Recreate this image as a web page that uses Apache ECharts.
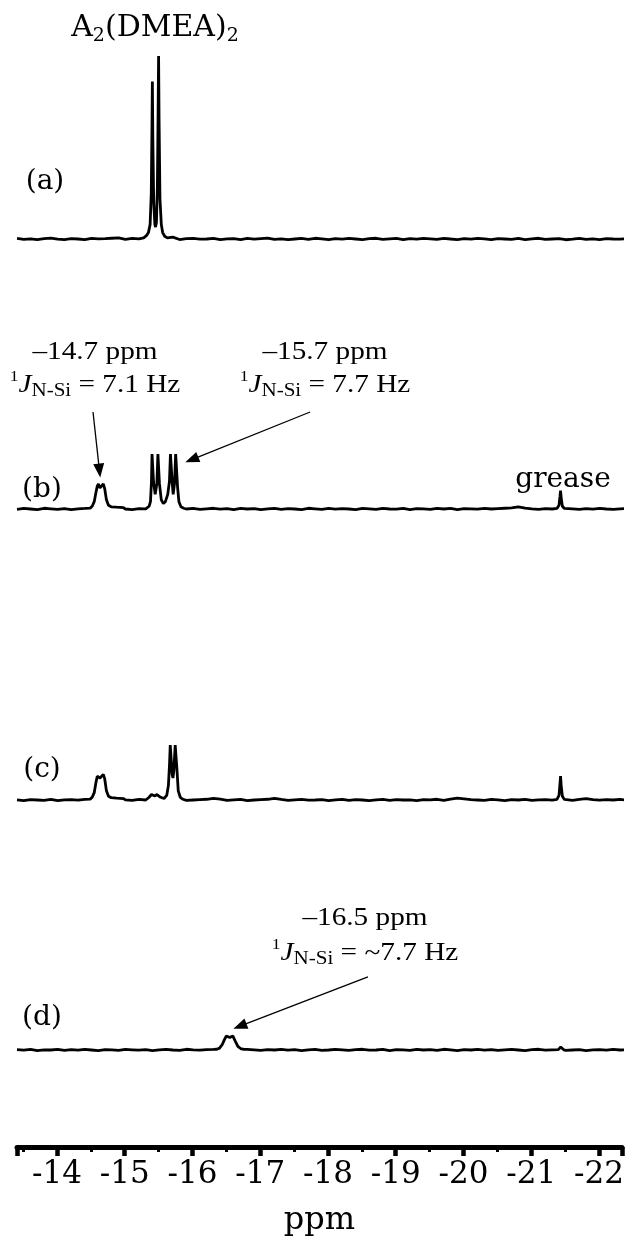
<!DOCTYPE html>
<html>
<head>
<meta charset="utf-8">
<script src="https://cdn.jsdelivr.net/npm/echarts@6/dist/echarts.min.js"></script>
<style>
  html, body { margin: 0; padding: 0; background: #fff; }
  #chart { width: 629px; height: 1251px; }
</style>
</head>
<body>
<div id="chart"></div>
<script>
// ppm range of the axis (left edge to right edge)
const ppmLeft = -13.41;
const ppmRight = -22.34;

// baseline samples, every 0.1 ppm starting at ppmLeft
const baseStart = -13.41;
const baseStep = 0.1;

const noiseA = [
  0.3, -0.2, 0.1, -0.4, 0.2, 0.5, -0.1, -0.3, 0.2, 0.0,
  -0.4, 0.3, 0.1, 0.2, 0.4, 0.6, -0.2, 0.3, 0.1, -0.3,
  0.2, 0.4, -0.2, 1.0, -0.3, 0.2, 0.3, -0.1, 0.0, 0.4,
  -0.3, 0.1, 0.2, -0.4, 0.3, -0.1, 0.2, 0.5, -0.2, 0.1,
  -0.3, 0.0, 0.3, -0.2, 0.4, 0.1, -0.4, 0.2, -0.1, 0.3,
  0.0, -0.3, 0.2, 0.4, -0.2, 0.1, 0.3, -0.4, 0.2, -0.1,
  0.3, 0.1, -0.2, 0.4, 0.0, -0.3, 0.2, -0.1, 0.3, 0.1,
  -0.4, 0.2, 0.0, -0.2, 0.3, -0.3, 0.1, 0.4, -0.2, 0.0,
  0.2, -0.4, -0.1, 0.3, -0.2, 0.1, -0.3, 0.2, 0.0, -0.1,
  0.2
];
const noiseB = [
  -0.2, 0.3, 0.0, -0.3, 0.4, 0.1, -0.2, 0.2, -0.4, 0.1,
  0.3, -0.1, 0.2, 0.4, -0.2, 0.3, 0.0, -0.3, 0.2, 0.1,
  -0.2, 0.4, 0.1, -0.3, 0.2, 0.0, 0.3, -0.2, 0.1, 0.4,
  -0.1, 0.2, -0.3, 0.3, 0.0, 0.2, -0.4, 0.1, 0.3, -0.2,
  0.2, 0.0, -0.3, 0.4, 0.1, -0.2, 0.3, -0.1, 0.2, 0.0,
  -0.3, 0.3, 0.1, -0.2, 0.4, 0.0, -0.1, 0.3, -0.3, 0.2,
  0.1, -0.2, 0.4, 0.0, 0.3, -0.3, 0.2, 0.1, -0.1, 0.3,
  0.0, 0.2, 0.4, 0.6, 1.2, 0.5, 0.1, -0.2, 0.2, 0.0,
  -0.3, 0.3, 0.1, -0.2, 0.2, -0.1, 0.3, 0.0, -0.2, 0.1,
  0.2
];
const noiseC = [
  0.1, -0.3, 0.2, 0.0, -0.2, 0.3, -0.4, 0.1, 0.2, -0.1,
  0.3, -0.2, 0.4, 0.0, -0.3, 0.2, 0.1, -0.2, 0.3, 0.0,
  -0.1, 0.2, -0.3, 0.1, 0.3, -0.2, 0.0, 0.2, 0.4, 0.9,
  0.5, -0.2, 0.1, 0.3, -0.3, 0.0, 0.2, 0.4, 0.9, 0.3,
  -0.2, 0.1, 0.3, -0.1, 0.0, 0.2, -0.3, 0.1, 0.3, -0.2,
  0.2, 0.0, -0.3, 0.1, 0.3, -0.2, 0.2, 0.0, 0.1, -0.3,
  0.2, 0.1, 0.4, -0.2, 0.5, 1.0, 0.6, 0.2, 0.0, -0.2,
  0.3, 0.1, -0.3, 0.2, 0.0, 0.3, -0.2, 0.1, 0.2, -0.1,
  0.0, 0.3, -0.2, 0.4, 0.8, 0.2, -0.1, 0.2, 0.0, 0.3,
  -0.1
];
const noiseD = [
  0.2, -0.1, 0.3, -0.3, 0.1, 0.0, 0.4, -0.2, 0.2, -0.1,
  0.3, 0.0, -0.3, 0.2, 0.1, -0.2, 0.3, 0.1, -0.1, 0.2,
  -0.3, 0.1, 0.3, 0.0, -0.2, 0.4, 0.1, -0.1, 0.2, 0.3,
  -0.2, 0.0, 0.2, -0.3, 0.3, 0.1, -0.2, 0.2, 0.0, 0.4,
  -0.1, 0.2, -0.3, 0.1, 0.3, -0.2, 0.0, 0.3, 0.1, -0.2,
  0.2, 0.4, -0.1, 0.0, 0.3, -0.3, 0.2, 0.1, -0.2, 0.3,
  0.0, 0.2, -0.2, 0.4, 0.1, -0.3, 0.2, 0.0, 0.3, -0.1,
  0.2, -0.2, 0.1, 0.3, 0.0, -0.3, 0.2, 0.4, -0.1, 0.1,
  0.3, -0.2, 0.0, 0.2, -0.3, 0.1, 0.2, -0.1, 0.3, 0.0,
  0.1
];

// peaks: [ppm, intensity]
const a_dmea = [[-15.28,0.6],[-15.32,1.8],[-15.35,3.5],[-15.375,8],[-15.392,25],[-15.402,60],[-15.408,86],[-15.415,55],[-15.428,20],[-15.445,8],[-15.455,6.5],[-15.468,9],[-15.482,28],[-15.493,70],[-15.50,100],[-15.507,65],[-15.52,22],[-15.54,8],[-15.56,3.5],[-15.59,1.5],[-15.63,0.6]];

const b_147 = [[-14.49,0.5],[-14.52,1.5],[-14.55,4],[-14.575,9],[-14.595,12.5],[-14.612,13.7],[-14.635,11.5],[-14.66,12.5],[-14.684,13.7],[-14.705,11],[-14.73,5],[-14.76,2],[-14.80,1.2],[-14.88,1.0],[-14.98,0.8]];
const b_157 = [[-15.33,0.5],[-15.36,1.5],[-15.38,4],[-15.395,15],[-15.403,30],[-15.413,30],[-15.425,15],[-15.45,8],[-15.475,14],[-15.49,30],[-15.50,30],[-15.512,14],[-15.54,5],[-15.57,3],[-15.60,4],[-15.635,8],[-15.66,15],[-15.675,30],[-15.687,30],[-15.70,15],[-15.715,8],[-15.735,14],[-15.752,30],[-15.763,30],[-15.78,12],[-15.80,4],[-15.83,1.2],[-15.87,0.4]];
const b_grease = [[-21.38,0.3],[-21.41,2],[-21.425,7],[-21.433,10],[-21.442,6],[-21.46,1.5],[-21.49,0.3]];

const c_147 = [[-14.49,0.5],[-14.52,1.5],[-14.55,4],[-14.575,9.5],[-14.595,13],[-14.612,14],[-14.635,12],[-14.66,13],[-14.684,14],[-14.705,11.5],[-14.73,5],[-14.76,2],[-14.80,1.3],[-14.88,1.0],[-14.98,0.8]];
const c_157 = [[-15.32,0.5],[-15.36,1.5],[-15.395,3],[-15.415,3.4],[-15.445,2.2],[-15.475,3],[-15.50,3.3],[-15.53,1.5],[-15.58,0.8],[-15.62,2.5],[-15.645,8],[-15.662,20],[-15.672,30],[-15.684,30],[-15.70,14],[-15.712,12],[-15.725,16],[-15.745,30],[-15.757,30],[-15.772,16],[-15.79,5],[-15.82,1.5],[-15.86,0.4]];
const c_grease = [[-21.38,0.3],[-21.41,2.5],[-21.425,9],[-21.433,13],[-21.442,8],[-21.46,2],[-21.49,0.3]];

const d_165 = [[-16.36,0.4],[-16.40,1],[-16.44,3],[-16.47,5.5],[-16.50,7.7],[-16.55,6.8],[-16.595,7.7],[-16.63,5],[-16.67,2],[-16.71,0.8],[-16.76,0.3]];
const d_grease = [[-21.40,0.2],[-21.425,1.2],[-21.435,1.6],[-21.45,0.8],[-21.48,0.1]];

const spectra = [
  { name: '(a)', noise: noiseA, peaks: [a_dmea] },
  { name: '(b)', noise: noiseB, peaks: [b_147, b_157, b_grease] },
  { name: '(c)', noise: noiseC, peaks: [c_147, c_157, c_grease] },
  { name: '(d)', noise: noiseD, peaks: [d_165, d_grease] }
];

function buildLine(noise, peaks) {
  const pts = [];
  noise.forEach(function (v, i) {
    const x = baseStart - i * baseStep;
    const inside = peaks.some(function (p) {
      return x <= p[0][0] && x >= p[p.length - 1][0];
    });
    if (!inside) pts.push([x, v]);
  });
  peaks.forEach(function (p) { p.forEach(function (q) { pts.push(q); }); });
  pts.sort(function (a, b) { return b[0] - a[0]; });
  return pts;
}

const chart = echarts.init(document.getElementById('chart'), null, { renderer: 'canvas' });

const gridTops = [56, 326, 617, 867];
const gridH = 201.3;

const arrowStyle = { color: '#000', width: 1.3, type: 'solid' };
const arrows = [
  [],
  [
    [{ coord: [-14.532, 53] }, { coord: [-14.627, 21] }],
    [{ coord: [-17.737, 53] }, { coord: [-15.99, 27] }]
  ],
  [],
  [
    [{ coord: [-18.59, 40] }, { coord: [-16.70, 13] }]
  ]
];

const series = spectra.map(function (s, i) {
  const o = {
    type: 'line',
    name: s.name,
    xAxisIndex: i,
    yAxisIndex: i,
    data: buildLine(s.noise, s.peaks),
    showSymbol: false,
    symbol: 'none',
    lineStyle: { color: '#000', width: 2.8 },
    animation: false,
    silent: true
  };
  if (arrows[i].length) {
    o.markLine = {
      silent: true,
      animation: false,
      symbol: ['none', 'triangle'],
      symbolSize: [11, 14],
      label: { show: false },
      lineStyle: arrowStyle,
      data: arrows[i]
    };
  }
  return o;
});

const serif = 'DejaVu Serif';
const times = 'Liberation Serif';

function jLabel(x, y, value) {
  return {
    type: 'text', x: x, y: y, scaleX: 1.17,
    style: {
      text: '{sup|1}{it|J}{sub|N-Si}{n| = ' + value + '}',
      align: 'center', verticalAlign: 'middle', fill: '#000',
      rich: {
        sup: { fontFamily: times, fontSize: 15, verticalAlign: 'top', lineHeight: 30 },
        it: { fontFamily: times, fontSize: 25, fontStyle: 'italic', lineHeight: 30 },
        sub: { fontFamily: times, fontSize: 18, verticalAlign: 'bottom', lineHeight: 30, padding: [8, 0, 0, 0] },
        n: { fontFamily: times, fontSize: 25, lineHeight: 30 }
      }
    }
  };
}
function ppmLabel(x, y, text) {
  return {
    type: 'text', x: x, y: y, scaleX: 1.17,
    style: { text: text, fontFamily: times, fontSize: 25, fill: '#000', align: 'center', verticalAlign: 'middle' }
  };
}
function tag(x, y, text) {
  return {
    type: 'text', x: x, y: y,
    style: { text: text, fontFamily: serif, fontSize: 28, fill: '#000', align: 'center', verticalAlign: 'middle' }
  };
}

const option = {
  backgroundColor: '#fff',
  animation: false,
  grid: gridTops.map(function (t) {
    return { left: 17, right: 7, top: t, height: gridH, containLabel: false };
  }),
  xAxis: gridTops.map(function (t, i) {
    const last = i === gridTops.length - 1;
    return {
      type: 'value',
      gridIndex: i,
      min: ppmRight,
      max: ppmLeft,
      inverse: true,
      minInterval: 1,
      maxInterval: 1,
      show: last,
      offset: last ? 78.7 : 0,
      axisLine: { show: true, onZero: false, lineStyle: { color: '#000', width: 5 } },
      axisTick: { show: true, length: 9, lineStyle: { color: '#000', width: 4.5 } },
      minorTick: { show: true, splitNumber: 2, length: 5, lineStyle: { color: '#000', width: 3 } },
      splitLine: { show: false },
      axisLabel: {
        show: last, color: '#000', fontFamily: serif, fontSize: 31, margin: 12,
        showMinLabel: false, showMaxLabel: false
      },
      name: last ? 'ppm' : '',
      nameLocation: 'middle',
      nameGap: 58,
      nameTextStyle: { color: '#000', fontFamily: serif, fontSize: 32 }
    };
  }),
  yAxis: gridTops.map(function (t, i) {
    return { type: 'value', gridIndex: i, min: -10, max: 100, show: false };
  }),
  series: series,
  graphic: [
    {
      type: 'text', x: 155, y: 28,
      style: {
        text: '{n|A}{s|2}{n|(DMEA)}{s|2}', align: 'center', verticalAlign: 'middle', fill: '#000',
        rich: {
          n: { fontFamily: serif, fontSize: 30, lineHeight: 36 },
          s: { fontFamily: serif, fontSize: 19, lineHeight: 36, verticalAlign: 'bottom', padding: [10, 0, 0, 0] }
        }
      }
    },
    tag(45, 182, '(a)'),
    tag(42, 490, '(b)'),
    tag(42, 770, '(c)'),
    tag(42, 1018, '(d)'),
    tag(563, 480, 'grease'),
    ppmLabel(95, 352, '\u201314.7 ppm'),
    jLabel(95, 385, '7.1 Hz'),
    ppmLabel(325, 352, '\u201315.7 ppm'),
    jLabel(325, 385, '7.7 Hz'),
    ppmLabel(365, 918, '\u201316.5 ppm'),
    jLabel(365, 953, '~7.7 Hz')
  ]
};

chart.setOption(option);
</script>
</body>
</html>
